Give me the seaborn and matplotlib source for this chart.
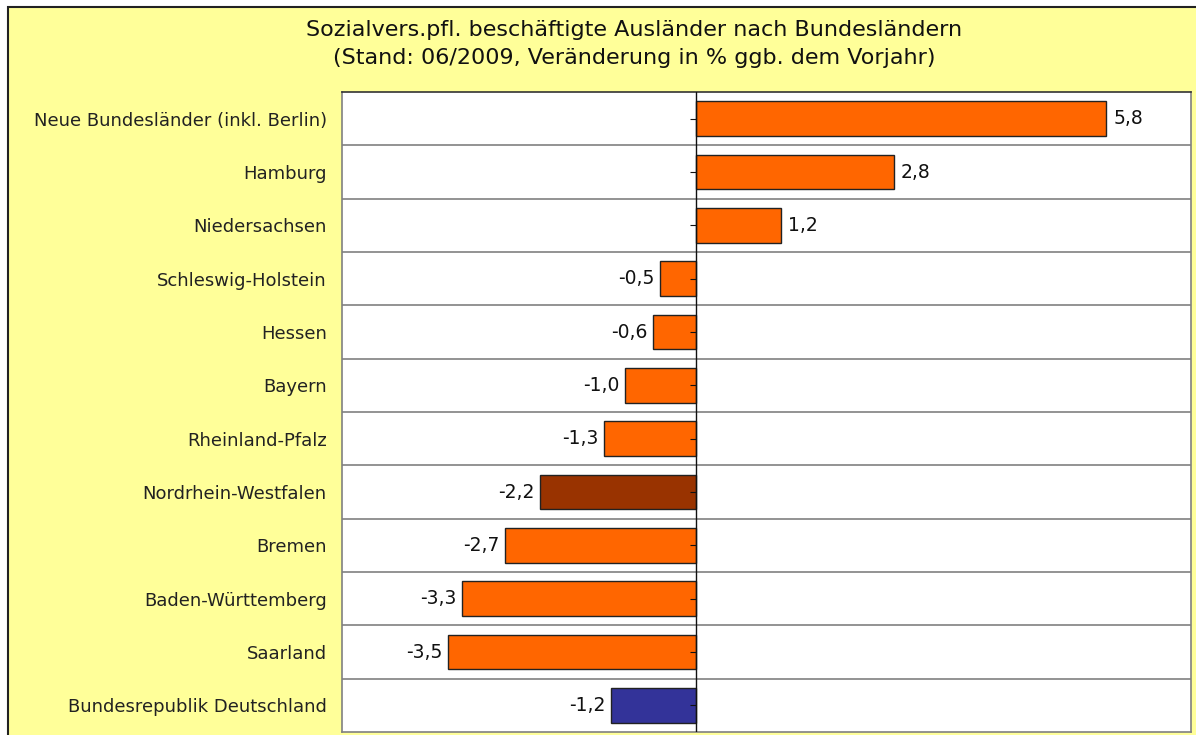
import matplotlib
matplotlib.use('Agg')
import matplotlib.pyplot as plt
import seaborn as sns
import pandas as pd
from matplotlib.patches import Rectangle

# Daten aus der Grafik
regions = ['Neue Bundesländer (inkl. Berlin)', 'Hamburg', 'Niedersachsen',
           'Schleswig-Holstein', 'Hessen', 'Bayern', 'Rheinland-Pfalz',
           'Nordrhein-Westfalen', 'Bremen', 'Baden-Württemberg', 'Saarland',
           'Bundesrepublik Deutschland']
change = [5.8, 2.8, 1.2, -0.5, -0.6, -1.0, -1.3, -2.2, -2.7, -3.3, -3.5, -1.2]
bar_colors = ['#FF6600'] * 7 + ['#993300'] + ['#FF6600'] * 3 + ['#333399']

df = pd.DataFrame({'region': regions, 'change': change})

sns.set_style('white')
plt.rcParams['font.family'] = ['DejaVu Sans']

W, H = 1196, 735
fig = plt.figure(figsize=(W / 100, H / 100), dpi=100)
fig.patch.set_facecolor('white')
fig.patches.append(Rectangle((8 / W, -0.01), 1.0, (H - 7) / H + 0.01,
                             transform=fig.transFigure, facecolor='#FFFF99',
                             edgecolor='#222222', linewidth=1.5, zorder=-10))

ax = fig.add_axes([342 / W, 3 / H, (1191 - 342) / W, (732 - 92) / H])
ax.set_zorder(5)
sns.barplot(data=df, x='change', y='region', hue='region', palette=bar_colors,
            legend=False, width=0.65, saturation=1, edgecolor='#222222',
            linewidth=1.0, ax=ax, zorder=3)

ax.set_xlim(-5, 7)
ax.set_ylim(len(regions) - 0.5, -0.5)
ax.set_facecolor('white')
ax.set_xlabel('')
ax.set_ylabel('')
ax.set_xticks([])
ax.tick_params(axis='y', length=0, pad=11, labelsize=13, labelcolor='#222222')

for i in range(len(regions) - 1):
    ax.axhline(i + 0.5, color='#808080', linewidth=1.2, zorder=1)
ax.axvline(0, color='#111111', linewidth=1.0, zorder=4)
ax.scatter([0] * len(regions), range(len(regions)), marker=0, s=20,
           color='#111111', linewidths=0.8, zorder=5)

for sp in ax.spines.values():
    sp.set_color('#808080')
    sp.set_linewidth(1.2)
ax.spines['top'].set_color('#333333')

for i, v in enumerate(change):
    label = f'{v:.1f}'.replace('.', ',')
    if v >= 0:
        ax.text(v + 0.1, i, label, va='center', ha='left', fontsize=13.5, color='#111111')
    else:
        ax.text(v - 0.08, i, label, va='center', ha='right', fontsize=13.5, color='#111111')

fig.text(634 / W, 1 - 30 / H, 'Sozialvers.pfl. beschäftigte Ausländer nach Bundesländern',
         ha='center', va='center', fontsize=16, color='#111111')
fig.text(634 / W, 1 - 58 / H, '(Stand: 06/2009, Veränderung in % ggb. dem Vorjahr)',
         ha='center', va='center', fontsize=16, color='#111111')

fig.savefig('out.png', dpi=100, facecolor=fig.get_facecolor())
